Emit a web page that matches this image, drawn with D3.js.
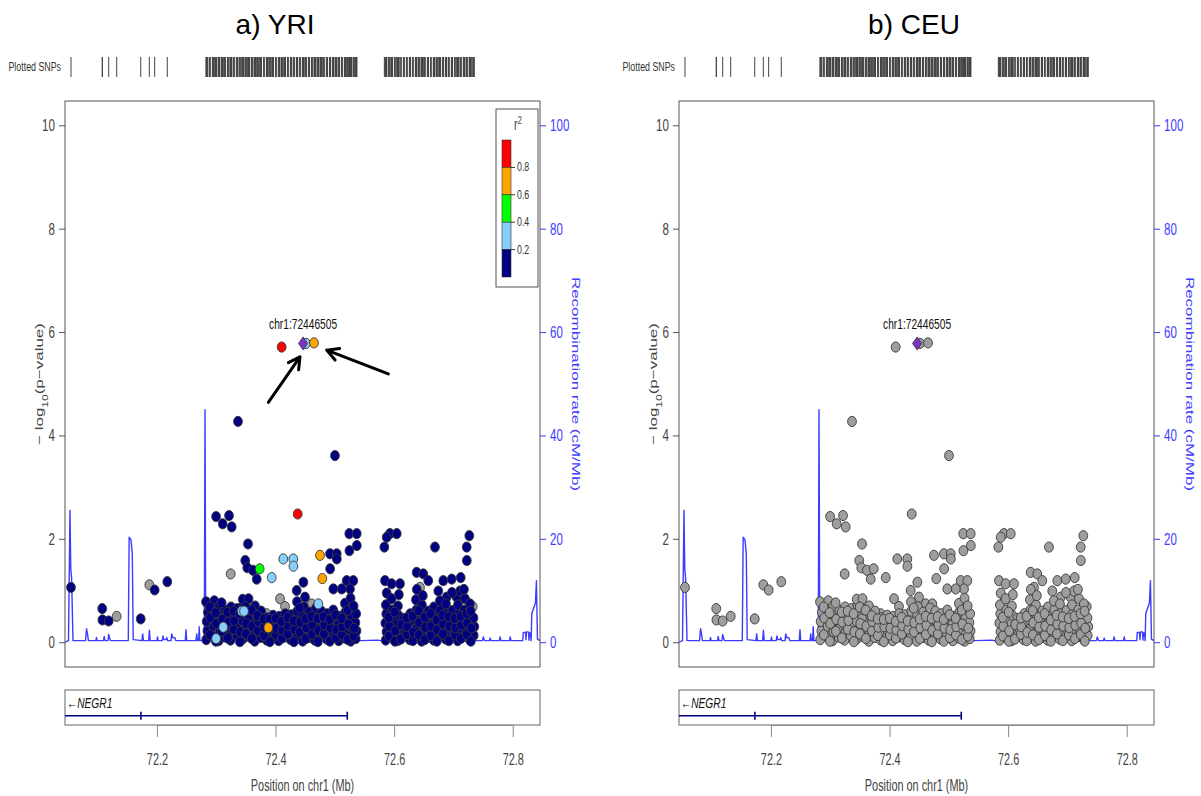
<!DOCTYPE html>
<html>
<head>
<meta charset="utf-8">
<script src="https://cdn.jsdelivr.net/npm/d3@7"></script>
<style>
  body { margin: 0; background: #fff; }
  text { font-family: 'Liberation Sans', Arial, Helvetica, sans-serif; }
</style>
</head>
<body>
<svg id="chart" width="1201" height="796"></svg>
<script>
// ---------------- data ----------------
// Region shown (Mb on chr1) and axis ranges
const xDomain = [72.045, 72.846];
const logpDomain = [-0.48, 10.47];
const recombDomain = [-4.8, 104.7];
const xTicks = [72.2, 72.4, 72.6, 72.8];
const logpTicks = [0, 2, 4, 6, 8, 10];
const recombTicks = [0, 20, 40, 60, 80, 100];

// LD (r^2 with the index SNP) colour classes
const ldBreaks = [0.2, 0.4, 0.6, 0.8];
const ldColors = ["#000080", "#87cefa", "#00ff00", "#ffa500", "#ff0000"];
const noLdColor = "#9e9e9e";

// Index SNP
const indexSnpName = "chr1:72446505";
const indexSnpPos = 72.446505;
const indexSnpLogP = 5.78;

// SNPs: [position (Mb), -log10 p, r^2 in YRI (null = no LD information)]
const snpsFlank = [
  [72.0551, 1.06, 0.1], [72.1078, 0.65, 0.1], [72.1081, 0.43, 0.1], [72.1187, 0.41, 0.1],
  [72.1322, 0.50, null], [72.1727, 0.45, 0.1], [72.1872, 1.11, null], [72.1962, 1.01, 0.1],
  [72.2175, 1.17, 0.1]
];

const snpsUpper = [
  [72.2998, 2.43, 0.1], [72.3109, 2.29, 0.1], [72.3216, 2.45, 0.1], [72.3261, 2.23, 0.1],
  [72.3367, 4.27, 0.1], [72.3536, 1.90, 0.1], [72.3490, 1.58, 0.1], [72.3524, 1.44, 0.1],
  [72.3620, 1.39, 0.1], [72.3683, 1.22, 0.1], [72.3733, 1.42, 0.5], [72.3244, 1.32, null],
  [72.3936, 1.25, 0.3], [72.4131, 1.61, 0.3], [72.4300, 1.61, 0.3], [72.4302, 1.47, 0.3],
  [72.4374, 2.48, 0.9], [72.4104, 5.71, 0.9], [72.4514, 5.78, 0.3], [72.4649, 5.79, 0.7],
  [72.4750, 1.68, 0.7], [72.4789, 1.23, 0.7], [72.4919, 1.71, 0.1], [72.5032, 1.71, 0.1],
  [72.4921, 1.42, 0.1], [72.5034, 1.61, 0.1], [72.5003, 3.61, 0.1], [72.5244, 2.10, 0.1],
  [72.5369, 2.10, 0.1], [72.5371, 1.87, 0.1], [72.5246, 1.77, 0.1], [72.5200, 1.19, 0.1],
  [72.5312, 1.19, 0.1], [72.5256, 1.03, 0.1], [72.5117, 1.03, 0.1], [72.4975, 1.03, 0.1],
  [72.4470, 1.16, 0.1], [72.4357, 1.00, 0.1], [72.4497, 0.87, 0.1], [72.4610, 0.74, null],
  [72.4722, 0.74, 0.3], [72.4076, 0.84, null], [72.4160, 0.69, null], [72.3851, 0.55, null],
  [72.3878, 0.28, 0.7], [72.3430, 0.60, 0.3], [72.3469, 0.60, 0.3], [72.3119, 0.29, 0.3],
  [72.2998, 0.07, 0.3],
  [72.5930, 2.10, 0.1], [72.6044, 2.10, 0.1], [72.5875, 2.03, 0.1], [72.5835, 1.84, 0.1],
  [72.6689, 1.84, 0.1], [72.7268, 2.06, 0.1], [72.7224, 1.84, 0.1], [72.7226, 1.58, 0.1],
  [72.5846, 1.19, 0.1], [72.5958, 1.13, 0.1], [72.6099, 1.13, 0.1], [72.6380, 1.35, 0.1],
  [72.6492, 1.32, 0.1], [72.6576, 1.19, 0.1], [72.6829, 1.19, 0.1], [72.6971, 1.22, 0.1],
  [72.7123, 1.25, 0.1], [72.6745, 0.99, 0.1], [72.6887, 0.87, 0.1], [72.7055, 0.87, 0.1],
  [72.7111, 0.99, 0.1], [72.7195, 0.84, 0.1], [72.7325, 0.69, null], [72.5947, 0.84, null],
  [72.6436, 1.06, null]
];

// dense band of weakly associated SNPs, west block
const snpsBlockWest = [
  [72.2832, 0.05, 0.1], [72.2851, 0.22, 0.1], [72.2839, 0.40, 0.1], [72.2860, 0.58, 0.1], [72.2828, 0.78, 0.1],
  [72.2941, 0.12, 0.1], [72.2957, 0.31, 0.1], [72.2935, 0.49, 0.1], [72.2950, 0.66, 0.1], [72.2968, 0.80, 0.1],
  [72.3040, 0.03, 0.1], [72.3055, 0.20, 0.1], [72.3031, 0.37, 0.1], [72.3062, 0.55, 0.1], [72.3049, 0.70, 0.1],
  [72.3143, 0.10, 0.1], [72.3159, 0.27, 0.1], [72.3136, 0.45, 0.1], [72.3152, 0.62, 0.1],
  [72.3241, 0.04, 0.1], [72.3257, 0.18, 0.1], [72.3236, 0.35, 0.1], [72.3263, 0.52, 0.1], [72.3250, 0.68, 0.1],
  [72.3346, 0.13, 0.1], [72.3361, 0.30, 0.1], [72.3339, 0.47, 0.1], [72.3355, 0.65, 0.1],
  [72.3444, 0.06, 0.1], [72.3460, 0.24, 0.1], [72.3438, 0.41, 0.1], [72.3457, 0.72, 0.1], [72.3447, 0.83, 0.1],
  [72.3549, 0.11, 0.1], [72.3566, 0.28, 0.1], [72.3542, 0.46, 0.1], [72.3558, 0.63, 0.1], [72.3545, 0.84, 0.1],
  [72.3650, 0.02, 0.1], [72.3661, 0.19, 0.1], [72.3643, 0.36, 0.1], [72.3668, 0.53, 0.1], [72.3655, 0.70, 0.1],
  [72.3750, 0.09, 0.1], [72.3764, 0.26, 0.1], [72.3744, 0.43, 0.1], [72.3758, 0.60, 0.1],
  [72.3852, 0.04, 0.1], [72.3866, 0.17, 0.1], [72.3846, 0.33, 0.1], [72.3861, 0.47, 0.1],
  [72.3950, 0.08, 0.1], [72.3967, 0.23, 0.1], [72.3945, 0.39, 0.1], [72.3960, 0.52, 0.1],
  [72.4053, 0.03, 0.1], [72.4068, 0.18, 0.1], [72.4047, 0.34, 0.1], [72.4063, 0.50, 0.1],
  [72.4155, 0.10, 0.1], [72.4170, 0.26, 0.1], [72.4149, 0.42, 0.1], [72.4165, 0.55, 0.1],
  [72.4256, 0.05, 0.1], [72.4271, 0.21, 0.1], [72.4250, 0.37, 0.1], [72.4266, 0.53, 0.1],
  [72.4357, 0.12, 0.1], [72.4372, 0.29, 0.1], [72.4351, 0.45, 0.1], [72.4367, 0.60, 0.1], [72.4362, 0.78, 0.1],
  [72.4458, 0.02, 0.1], [72.4473, 0.18, 0.1], [72.4452, 0.35, 0.1], [72.4468, 0.52, 0.1], [72.4480, 0.68, 0.1],
  [72.4560, 0.09, 0.1], [72.4575, 0.25, 0.1], [72.4554, 0.42, 0.1], [72.4570, 0.58, 0.1],
  [72.4661, 0.04, 0.1], [72.4676, 0.20, 0.1], [72.4655, 0.37, 0.1], [72.4671, 0.55, 0.1], [72.4683, 0.66, 0.1],
  [72.4762, 0.11, 0.1], [72.4777, 0.27, 0.1], [72.4756, 0.44, 0.1], [72.4772, 0.60, 0.1],
  [72.4863, 0.06, 0.1], [72.4878, 0.22, 0.1], [72.4857, 0.38, 0.1], [72.4873, 0.55, 0.1],
  [72.4964, 0.13, 0.1], [72.4979, 0.29, 0.1], [72.4958, 0.46, 0.1], [72.4974, 0.62, 0.1],
  [72.5066, 0.03, 0.1], [72.5081, 0.19, 0.1], [72.5060, 0.35, 0.1], [72.5076, 0.50, 0.1],
  [72.5167, 0.08, 0.1], [72.5182, 0.24, 0.1], [72.5161, 0.41, 0.1], [72.5177, 0.58, 0.1], [72.5170, 0.75, 0.1],
  [72.5268, 0.02, 0.1], [72.5283, 0.15, 0.1], [72.5262, 0.32, 0.1], [72.5278, 0.48, 0.1], [72.5287, 0.66, 0.1], [72.5265, 0.85, 0.1],
  [72.5352, 0.07, 0.1], [72.5366, 0.22, 0.1], [72.5347, 0.38, 0.1], [72.5360, 0.55, 0.1],
  [72.2893, 0.14, 0.1], [72.2899, 0.47, 0.1], [72.2889, 0.68, 0.1],
  [72.2994, 0.02, 0.1], [72.3001, 0.36, 0.1], [72.2990, 0.57, 0.1],
  [72.3095, 0.21, 0.1], [72.3102, 0.44, 0.1], [72.3091, 0.76, 0.1],
  [72.3196, 0.08, 0.1], [72.3203, 0.39, 0.1], [72.3192, 0.58, 0.1],
  [72.3298, 0.25, 0.1], [72.3305, 0.42, 0.1], [72.3294, 0.60, 0.1],
  [72.3399, 0.01, 0.1], [72.3406, 0.20, 0.1], [72.3395, 0.55, 0.1],
  [72.3500, 0.16, 0.1], [72.3507, 0.36, 0.1], [72.3496, 0.68, 0.1],
  [72.3601, 0.07, 0.1], [72.3608, 0.31, 0.1], [72.3597, 0.62, 0.1],
  [72.3703, 0.22, 0.1], [72.3710, 0.40, 0.1], [72.3699, 0.51, 0.1],
  [72.3804, 0.13, 0.1], [72.3811, 0.29, 0.1], [72.3800, 0.45, 0.1],
  [72.3905, 0.01, 0.1], [72.3912, 0.30, 0.1], [72.3901, 0.44, 0.1],
  [72.4006, 0.14, 0.1], [72.4013, 0.27, 0.1], [72.4002, 0.46, 0.1],
  [72.4107, 0.08, 0.1], [72.4114, 0.24, 0.1], [72.4103, 0.40, 0.1],
  [72.4208, 0.16, 0.1], [72.4215, 0.32, 0.1], [72.4204, 0.48, 0.1],
  [72.4310, 0.01, 0.1], [72.4317, 0.25, 0.1], [72.4306, 0.41, 0.1],
  [72.4411, 0.20, 0.1], [72.4418, 0.38, 0.1], [72.4407, 0.66, 0.1],
  [72.4512, 0.07, 0.1], [72.4519, 0.28, 0.1], [72.4508, 0.45, 0.1],
  [72.4613, 0.15, 0.1], [72.4620, 0.33, 0.1], [72.4609, 0.50, 0.1],
  [72.4714, 0.01, 0.1], [72.4721, 0.23, 0.1], [72.4710, 0.46, 0.1],
  [72.4815, 0.16, 0.1], [72.4822, 0.33, 0.1], [72.4811, 0.49, 0.1],
  [72.4917, 0.02, 0.1], [72.4924, 0.27, 0.1], [72.4913, 0.44, 0.1],
  [72.5018, 0.09, 0.1], [72.5025, 0.24, 0.1], [72.5014, 0.53, 0.1],
  [72.5119, 0.14, 0.1], [72.5126, 0.30, 0.1], [72.5115, 0.46, 0.1],
  [72.5220, 0.05, 0.1], [72.5227, 0.35, 0.1], [72.5216, 0.62, 0.1],
  [72.5321, 0.12, 0.1], [72.5328, 0.27, 0.1], [72.5317, 0.70, 0.1]
];

// dense band, east block
const snpsBlockEast = [
  [72.5858, 0.04, 0.1], [72.5872, 0.20, 0.1], [72.5852, 0.37, 0.1], [72.5868, 0.55, 0.1], [72.5861, 0.72, 0.1], [72.5875, 0.95, 0.1],
  [72.5960, 0.10, 0.1], [72.5975, 0.27, 0.1], [72.5954, 0.44, 0.1], [72.5970, 0.62, 0.1], [72.5957, 0.84, 0.1],
  [72.6061, 0.03, 0.1], [72.6076, 0.18, 0.1], [72.6055, 0.35, 0.1], [72.6071, 0.52, 0.1], [72.6064, 0.70, 0.1], [72.6080, 0.92, 0.1],
  [72.6162, 0.12, 0.1], [72.6177, 0.28, 0.1], [72.6156, 0.46, 0.1],
  [72.6263, 0.05, 0.1], [72.6278, 0.22, 0.1], [72.6257, 0.38, 0.1], [72.6273, 0.55, 0.1],
  [72.6364, 0.11, 0.1], [72.6379, 0.27, 0.1], [72.6358, 0.44, 0.1], [72.6374, 0.62, 0.1], [72.6368, 0.82, 0.1], [72.6383, 1.02, 0.1],
  [72.6465, 0.02, 0.1], [72.6480, 0.19, 0.1], [72.6459, 0.35, 0.1], [72.6475, 0.53, 0.1], [72.6469, 0.72, 0.1], [72.6484, 0.90, 0.1],
  [72.6566, 0.09, 0.1], [72.6581, 0.25, 0.1], [72.6560, 0.42, 0.1], [72.6576, 0.60, 0.1],
  [72.6667, 0.04, 0.1], [72.6682, 0.20, 0.1], [72.6661, 0.36, 0.1], [72.6677, 0.52, 0.1], [72.6671, 0.68, 0.1],
  [72.6769, 0.12, 0.1], [72.6784, 0.29, 0.1], [72.6763, 0.46, 0.1], [72.6779, 0.63, 0.1], [72.6772, 0.80, 0.1],
  [72.6870, 0.06, 0.1], [72.6885, 0.22, 0.1], [72.6864, 0.39, 0.1], [72.6880, 0.56, 0.1], [72.6874, 0.74, 0.1],
  [72.6971, 0.10, 0.1], [72.6986, 0.26, 0.1], [72.6965, 0.43, 0.1], [72.6981, 0.61, 0.1], [72.6975, 0.96, 0.1],
  [72.7072, 0.03, 0.1], [72.7087, 0.19, 0.1], [72.7066, 0.36, 0.1], [72.7082, 0.54, 0.1], [72.7076, 0.72, 0.1],
  [72.7173, 0.11, 0.1], [72.7188, 0.28, 0.1], [72.7167, 0.45, 0.1], [72.7183, 0.62, 0.1], [72.7177, 1.02, 0.1],
  [72.7274, 0.05, 0.1], [72.7289, 0.21, 0.1], [72.7268, 0.38, 0.1], [72.7284, 0.56, 0.1], [72.7278, 0.74, 0.1],
  [72.7342, 0.13, 0.1], [72.7352, 0.30, 0.1], [72.7338, 0.47, 0.1],
  [72.5912, 0.12, 0.1], [72.5918, 0.31, 0.1], [72.5908, 0.48, 0.1],
  [72.6013, 0.02, 0.1], [72.6019, 0.22, 0.1], [72.6009, 0.58, 0.1],
  [72.6114, 0.06, 0.1], [72.6120, 0.34, 0.1],
  [72.6215, 0.15, 0.1], [72.6221, 0.30, 0.1], [72.6211, 0.47, 0.1],
  [72.6316, 0.03, 0.1], [72.6322, 0.19, 0.1], [72.6312, 0.50, 0.1],
  [72.6417, 0.14, 0.1], [72.6423, 0.38, 0.1], [72.6413, 0.61, 0.1],
  [72.6518, 0.05, 0.1], [72.6524, 0.29, 0.1], [72.6514, 0.48, 0.1],
  [72.6619, 0.13, 0.1], [72.6625, 0.31, 0.1], [72.6615, 0.55, 0.1],
  [72.6721, 0.02, 0.1], [72.6727, 0.24, 0.1], [72.6717, 0.43, 0.1],
  [72.6822, 0.16, 0.1], [72.6828, 0.35, 0.1], [72.6818, 0.52, 0.1],
  [72.6923, 0.03, 0.1], [72.6929, 0.31, 0.1], [72.6919, 0.49, 0.1],
  [72.7024, 0.14, 0.1], [72.7030, 0.28, 0.1], [72.7020, 0.46, 0.1],
  [72.7125, 0.07, 0.1], [72.7131, 0.33, 0.1], [72.7121, 0.50, 0.1],
  [72.7226, 0.15, 0.1], [72.7232, 0.37, 0.1], [72.7222, 0.55, 0.1],
  [72.7294, 0.02, 0.1], [72.7300, 0.27, 0.1], [72.7290, 0.60, 0.1]
];

// Recombination rate (cM/Mb) along the region
const recombPos = [
  72.0450, 72.0509, 72.0534, 72.0547, 72.0561, 72.0585,
  72.0796, 72.0813, 72.0829, 72.0846,
  72.0969, 72.0981, 72.0993,
  72.1099, 72.1111, 72.1125,
  72.1175, 72.1187, 72.1205, 72.1217,
  72.1517, 72.1532, 72.1563, 72.1585, 72.1600,
  72.1748, 72.1760, 72.1772,
  72.1861, 72.1873, 72.1887,
  72.2000, 72.2010, 72.2020,
  72.2089, 72.2101, 72.2116, 72.2153, 72.2167, 72.2180,
  72.2238, 72.2250, 72.2268, 72.2305, 72.2319,
  72.2479, 72.2490, 72.2502,
  72.2659, 72.2671, 72.2683, 72.2703, 72.2713, 72.2725,
  72.2799, 72.2811, 72.2824, 72.2845,
  72.4413, 72.5425, 72.5728, 72.5770,
  72.7347, 72.7364, 72.7381,
  72.7490, 72.7504, 72.7524,
  72.7608, 72.7620, 72.7634,
  72.7774, 72.7786, 72.7803,
  72.7945, 72.7957, 72.7971,
  72.8170, 72.8178, 72.8215, 72.8224, 72.8232, 72.8266, 72.8274, 72.8283, 72.8300,
  72.8311, 72.8321, 72.8383, 72.8400, 72.8417, 72.8459
];
const recombRate = [
  0.0, 0.3, 25.5, 14.3, 12.5, 0.3,
  0.3, 2.6, 1.6, 0.3,
  0.3, 0.9, 0.3,
  0.3, 1.1, 0.3,
  0.3, 1.5, 0.7, 0.3,
  0.3, 20.3, 19.8, 17.0, 0.5,
  0.3, 1.6, 0.3,
  0.3, 2.3, 0.3,
  0.3, 1.0, 0.3,
  0.3, 1.2, 0.5, 0.5, 0.9, 0.3,
  0.3, 1.6, 0.9, 0.8, 0.3,
  0.3, 2.4, 0.3,
  0.3, 1.6, 0.3, 0.3, 3.0, 0.3,
  0.3, 45.0, 0.5, 0.3,
  0.3, 0.3, 0.4, 0.3,
  0.3, 0.6, 0.3,
  0.3, 1.0, 0.3,
  0.3, 0.8, 0.3,
  0.3, 1.0, 0.3,
  0.3, 1.0, 0.3,
  0.3, 1.9, 1.9, 0.5, 2.0, 2.0, 0.4, 1.8, 1.8,
  0.3, 5.5, 7.6, 11.9, 0.6, 0.3
];

// Gene track
const geneNames = ["NEGR1"];
const geneStrands = ["-"];
const geneStarts = [71.826];
const geneEnds = [72.521];
const geneExons = [[72.173, 72.521]];

// Annotation arrows pointing at the lead SNPs: [fromPos, fromLogP, toPos, toLogP]
const arrowsYRI = [
  [72.3879, 4.64, 72.4413, 5.52],
  [72.5902, 5.19, 72.4863, 5.65]
];

// ---------------- drawing ----------------
const svg = d3.select("#chart");
const PLOT_T = 101, PLOT_B = 667, PLOT_W = 475;
const STRIP_T = 57, STRIP_B = 77;
const GENE_T = 690, GENE_B = 725;
const SQ = 0.68;           // horizontal squash of the lettering
const BLUE = "#3c3cff";

const allSnps = [...snpsFlank, ...snpsUpper, ...snpsBlockWest, ...snpsBlockEast];
const ldScale = d3.scaleThreshold().domain(ldBreaks).range(ldColors);

function narrowText(g, x, y, str, o = {}) {
  return g.append("text")
    .attr("transform", `translate(${x},${y}) scale(${SQ},1)`)
    .attr("text-anchor", o.anchor || "start")
    .style("font-size", (o.size || 14) + "px")
    .attr("fill", o.fill || "#333")
    .text(str);
}

const panels = [
  { key: "yri", title: "a) YRI", titleX: 275, left: 65, useLD: true, legend: true, arrows: arrowsYRI },
  { key: "ceu", title: "b) CEU", titleX: 914, left: 679, useLD: false, legend: false, arrows: [] }
];

panels.forEach(drawPanel);

function drawPanel(cfg) {
  const L = cfg.left, R = cfg.left + PLOT_W;
  const x = d3.scaleLinear().domain(xDomain).range([L, R]);
  const y = d3.scaleLinear().domain(logpDomain).range([PLOT_B, PLOT_T]);
  const yr = d3.scaleLinear().domain(recombDomain).range([PLOT_B, PLOT_T]);
  const g = svg.append("g");

  // panel title
  g.append("text").attr("x", cfg.titleX).attr("y", 34).attr("text-anchor", "middle")
    .style("font-size", "28px").attr("fill", "#000").text(cfg.title);

  // plotted SNPs strip
  g.append("g").selectAll("line").data(allSnps).join("line")
    .attr("x1", d => x(d[0])).attr("x2", d => x(d[0]))
    .attr("y1", STRIP_T).attr("y2", STRIP_B)
    .attr("stroke", "#444").attr("stroke-width", 1);
  narrowText(g, L - 4, 71, "Plotted SNPs", { size: 13, anchor: "end", fill: "#333" });

  // clipping to the plot area
  const clipId = "clip-" + cfg.key;
  svg.append("clipPath").attr("id", clipId).append("rect")
    .attr("x", L).attr("y", PLOT_T).attr("width", PLOT_W).attr("height", PLOT_B - PLOT_T);

  // recombination rate
  g.append("path").datum(d3.zip(recombPos, recombRate))
    .attr("clip-path", `url(#${clipId})`)
    .attr("fill", "none").attr("stroke", BLUE).attr("stroke-width", 1.4)
    .attr("stroke-linejoin", "round")
    .attr("d", d3.line().x(d => x(d[0])).y(d => yr(d[1])));

  // SNP points (no-LD first, then increasing r^2)
  const pts = allSnps.map(d => ({ pos: d[0], logp: d[1], r2: cfg.useLD ? d[2] : null }));
  pts.sort((a, b) => (a.r2 === null ? -1 : a.r2) - (b.r2 === null ? -1 : b.r2));
  g.append("g").attr("clip-path", `url(#${clipId})`)
    .selectAll("ellipse").data(pts).join("ellipse")
    .attr("cx", d => x(d.pos)).attr("cy", d => y(d.logp))
    .attr("rx", 4.4).attr("ry", 5.1)
    .attr("fill", d => d.r2 === null ? noLdColor : ldScale(d.r2))
    .attr("stroke", "#3a3a3a").attr("stroke-width", 0.9);

  // index SNP
  const ix = x(indexSnpPos), iy = y(indexSnpLogP);
  g.append("path")
    .attr("d", `M${ix},${iy - 6.5}L${ix + 4.6},${iy}L${ix},${iy + 6.5}L${ix - 4.6},${iy}Z`)
    .attr("fill", "#7b35c2").attr("stroke", "#333").attr("stroke-width", 0.8);
  narrowText(g, ix, iy - 14, indexSnpName, { size: 15, anchor: "middle", fill: "#111" });

  // arrows
  cfg.arrows.forEach(a => {
    const x0 = x(a[0]), y0 = y(a[1]), x1 = x(a[2]), y1 = y(a[3]);
    const ang = Math.atan2(y1 - y0, x1 - x0), hl = 13, ha = 0.5;
    const hx1 = x1 - hl * Math.cos(ang - ha), hy1 = y1 - hl * Math.sin(ang - ha);
    const hx2 = x1 - hl * Math.cos(ang + ha), hy2 = y1 - hl * Math.sin(ang + ha);
    g.append("path")
      .attr("d", `M${x0},${y0}L${x1},${y1}M${hx1},${hy1}L${x1},${y1}L${hx2},${hy2}`)
      .attr("fill", "none").attr("stroke", "#000").attr("stroke-width", 3)
      .attr("stroke-linecap", "round").attr("stroke-linejoin", "round");
  });

  // plot frame
  g.append("rect").attr("x", L).attr("y", PLOT_T).attr("width", PLOT_W).attr("height", PLOT_B - PLOT_T)
    .attr("fill", "none").attr("stroke", "#555").attr("stroke-width", 1);

  // left axis
  const ax = g.append("g").attr("transform", `translate(${L},0)`)
    .call(d3.axisLeft(y).tickValues(logpTicks).tickSize(6).tickPadding(6 / SQ).tickSizeOuter(0));
  ax.select(".domain").remove();
  ax.selectAll(".tick line").attr("stroke", "#555");
  ax.selectAll(".tick text").attr("transform", `scale(${SQ},1)`)
    .style("font-size", "17px").attr("fill", "#444");

  // right axis (recombination)
  const ar = g.append("g").attr("transform", `translate(${R},0)`)
    .call(d3.axisRight(yr).tickValues(recombTicks).tickSize(6).tickPadding(6 / SQ).tickSizeOuter(0));
  ar.select(".domain").remove();
  ar.selectAll(".tick line").attr("stroke", BLUE);
  ar.selectAll(".tick text").attr("transform", `scale(${SQ},1)`)
    .style("font-size", "17px").attr("fill", BLUE);

  // axis titles
  const lt = g.append("text")
    .attr("transform", `translate(${L - 22},${384}) rotate(-90) scale(1,${SQ})`)
    .attr("text-anchor", "middle").style("font-size", "17px").attr("fill", "#444");
  lt.append("tspan").text("\u2212 log");
  lt.append("tspan").attr("baseline-shift", "sub").style("font-size", "12px").text("10");
  lt.append("tspan").text("(p\u2212value)");

  g.append("text")
    .attr("transform", `translate(${R + 32},${384}) rotate(90) scale(1,${SQ})`)
    .attr("text-anchor", "middle").style("font-size", "17px").attr("fill", BLUE)
    .text("Recombination rate (cM/Mb)");

  // legend
  if (cfg.legend) {
    const lx = R - 44, ly = 109, lw = 42, lh = 178;
    const lg = g.append("g");
    lg.append("rect").attr("x", lx).attr("y", ly).attr("width", lw).attr("height", lh)
      .attr("fill", "#fff").attr("stroke", "#555");
    const rt = lg.append("text").attr("transform", `translate(${lx + 18},${ly + 21}) scale(${SQ},1)`)
      .style("font-size", "16px").attr("fill", "#444");
    rt.append("tspan").text("r");
    rt.append("tspan").attr("baseline-shift", "super").style("font-size", "11px").text("2");
    const bands = d3.range(ldColors.length).reverse();
    const bh = 27.4, bx = lx + 6, by = ly + 31;
    lg.selectAll("rect.band").data(bands).join("rect").attr("class", "band")
      .attr("x", bx).attr("y", (d, i) => by + i * bh).attr("width", 9).attr("height", bh)
      .attr("fill", d => ldColors[d]).attr("stroke", "#333").attr("stroke-width", 0.6);
    ldBreaks.slice().reverse().forEach((b, i) => {
      const yy = by + (i + 1) * bh;
      lg.append("line").attr("x1", bx + 9).attr("x2", bx + 13).attr("y1", yy).attr("y2", yy)
        .attr("stroke", "#333");
      narrowText(lg, bx + 15, yy + 4, b.toFixed(1), { size: 13, fill: "#333" });
    });
  }

  // gene track
  const gg = g.append("g");
  const gClip = "gclip-" + cfg.key;
  svg.append("clipPath").attr("id", gClip).append("rect")
    .attr("x", L).attr("y", GENE_T).attr("width", PLOT_W).attr("height", GENE_B - GENE_T);
  gg.append("rect").attr("x", L).attr("y", GENE_T).attr("width", PLOT_W).attr("height", GENE_B - GENE_T)
    .attr("fill", "none").attr("stroke", "#666");
  const lineY = GENE_T + 25.7;
  geneNames.forEach((name, i) => {
    const gc = gg.append("g").attr("clip-path", `url(#${gClip})`);
    gc.append("line").attr("x1", x(geneStarts[i])).attr("x2", x(geneEnds[i]))
      .attr("y1", lineY).attr("y2", lineY).attr("stroke", "#000080").attr("stroke-width", 1.6);
    gc.selectAll("line.exon").data(geneExons[i]).join("line").attr("class", "exon")
      .attr("x1", d => x(d)).attr("x2", d => x(d)).attr("y1", lineY - 4).attr("y2", lineY + 4)
      .attr("stroke", "#000080").attr("stroke-width", 1.6);
    const tx = Math.max(L + 2, x(geneStarts[i]));
    const t = gg.append("text").attr("transform", `translate(${tx},${GENE_T + 18}) scale(${SQ},1)`)
      .style("font-size", "15px").attr("fill", "#111");
    t.append("tspan").text(geneStrands[i] === "-" ? "\u2190" : "");
    t.append("tspan").style("font-style", "italic").text(name + (geneStrands[i] === "+" ? "\u2192" : ""));
  });

  // bottom position axis
  const bx = g.append("g").attr("transform", `translate(0,${GENE_B})`)
    .call(d3.axisBottom(x).tickValues(xTicks).tickSize(12).tickPadding(17).tickSizeOuter(0)
      .tickFormat(d3.format(".1f")));
  bx.select(".domain").remove();
  bx.append("line").attr("x1", x(xTicks[0])).attr("x2", x(xTicks[xTicks.length - 1]))
    .attr("y1", 0.5).attr("y2", 0.5).attr("stroke", "#888");
  bx.selectAll(".tick line").attr("stroke", "#888");
  bx.selectAll(".tick text").attr("transform", `scale(${SQ},1)`)
    .style("font-size", "16px").attr("fill", "#444");
  narrowText(g, (L + R) / 2, 791, "Position on chr1 (Mb)", { size: 16, anchor: "middle", fill: "#444" });
}
</script>
</body>
</html>
